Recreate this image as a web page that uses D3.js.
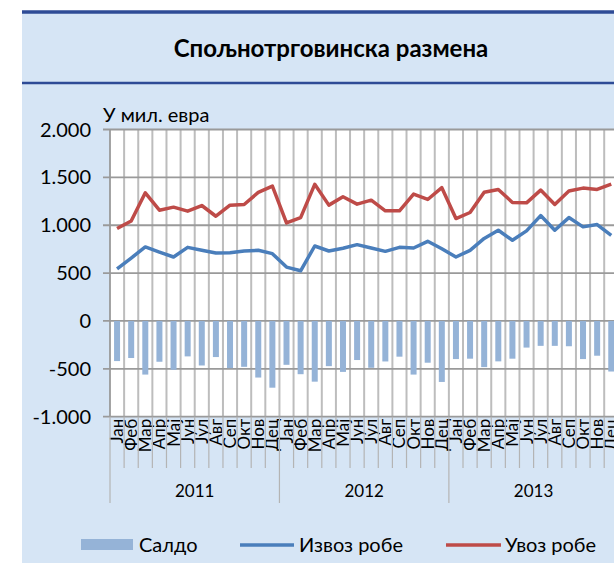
<!DOCTYPE html>
<html>
<head>
<meta charset="utf-8">
<script src="https://cdn.jsdelivr.net/npm/d3@7"></script>
<style>
  body { margin: 0; background: #fff; }
  text { font-family: Lato, "Open Sans", sans-serif; fill: #000; }
</style>
</head>
<body>
<svg id="chart" width="614" height="563"></svg>
<script>
// месеци и године
var months = ["Јан","Феб","Мар","Апр","Мај","Јун","Јул","Авг","Сеп","Окт","Нов","Дец"];
var years = ["2011","2012","2013"];

// извоз робе, мил. евра (очитано са графикона)
var izvoz = [545, 657, 773, 720, 668, 769, 738, 710, 713, 731, 738, 703,
             563, 524, 783, 731, 759, 797, 762, 727, 769, 762, 832, 755,
             668, 738, 862, 948, 843, 941, 1101, 948, 1080, 983, 1007, 895];

// увоз робе
var uvoz = [965, 1045, 1339, 1157, 1189, 1147, 1206, 1094, 1210, 1217, 1343, 1409,
            1024, 1080, 1427, 1210, 1297, 1220, 1262, 1150, 1150, 1325, 1269, 1392,
            1070, 1133, 1345, 1374, 1238, 1234, 1367, 1217, 1357, 1388, 1374, 1430];

// салдо
var saldo = [-419, -387, -560, -426, -510, -370, -465, -377, -493, -479, -591, -697,
             -458, -556, -634, -472, -532, -408, -489, -423, -373, -560, -436, -637,
             -398, -394, -482, -422, -394, -278, -260, -260, -264, -398, -363, -528];

var yTicks = [-1000, -500, 0, 500, 1000, 1500, 2000];

var svg = d3.select("#chart");

// панел
svg.append("rect").attr("x", 22).attr("y", 12).attr("width", 700).attr("height", 600)
   .attr("fill", "#d6e5f5");
svg.append("line").attr("x1", 22).attr("x2", 614).attr("y1", 12).attr("y2", 12)
   .attr("stroke", "#2e4b96").attr("stroke-width", 3.5);
svg.append("line").attr("x1", 22).attr("x2", 614).attr("y1", 83).attr("y2", 83)
   .attr("stroke", "#2e4b96").attr("stroke-width", 2.5);

svg.append("text").attr("x", 331).attr("y", 57).attr("text-anchor", "middle")
   .attr("font-size", 24).attr("font-weight", "bold")
   .text("Спољнотрговинска размена");

var plotLeft = 110, plotTop = 129.5, plotBottom = 416.7, step = 14.12;
var n = months.length * years.length;

var x = d3.scaleBand().domain(d3.range(n)).range([plotLeft, plotLeft + n * step]);
var y = d3.scaleLinear().domain([-1000, 2000]).range([plotBottom, plotTop]);

var fmt = d3.formatLocale({decimal: ",", thousands: ".", grouping: [3], currency: ["", ""], minus: "-"}).format(",d");

var g = svg.append("g");

g.append("rect").attr("x", plotLeft).attr("y", plotTop)
 .attr("width", n * step).attr("height", plotBottom - plotTop).attr("fill", "#fff");

// вертикалне линије мреже
g.selectAll(".vgrid").data(d3.range(1, n + 1)).enter().append("line")
 .attr("x1", d => x(0) + d * x.step()).attr("x2", d => x(0) + d * x.step())
 .attr("y1", plotTop).attr("y2", plotBottom)
 .attr("stroke", "#bdbdbd").attr("stroke-width", 2);

// хоризонталне линије мреже
g.selectAll(".hgrid").data(yTicks).enter().append("line")
 .attr("x1", plotLeft - 7).attr("x2", plotLeft + n * step)
 .attr("y1", d => y(d)).attr("y2", d => y(d))
 .attr("stroke", "#9a9a9a").attr("stroke-width", 1.8);

g.append("line").attr("x1", plotLeft).attr("x2", plotLeft).attr("y1", plotTop).attr("y2", plotBottom)
 .attr("stroke", "#9a9a9a").attr("stroke-width", 1.8);

g.selectAll(".ytick").data(yTicks).enter().append("text")
 .attr("x", plotLeft - 19).attr("y", d => y(d) + 7)
 .attr("text-anchor", "end").attr("font-size", 20)
 .text(d => fmt(d));

g.append("text").attr("x", 103).attr("y", 122).attr("font-size", 20).text("У мил. евра");

// салдо
var bw = 6;
g.selectAll(".bar").data(saldo).enter().append("rect")
 .attr("x", (d, i) => x(i) + x.bandwidth() / 2 - bw / 2)
 .attr("y", y(0))
 .attr("width", bw)
 .attr("height", d => y(d) - y(0))
 .attr("fill", "#95b3d7");

var line = d3.line().x((d, i) => x(i) + x.bandwidth() / 2).y(d => y(d));

g.append("path").datum(izvoz).attr("d", line).attr("fill", "none")
 .attr("stroke", "#4a7ebb").attr("stroke-width", 3.5).attr("stroke-linejoin", "round");
g.append("path").datum(uvoz).attr("d", line).attr("fill", "none")
 .attr("stroke", "#be4b48").attr("stroke-width", 3.5).attr("stroke-linejoin", "round");

// ознаке на x оси
var cats = d3.range(n);
g.selectAll(".mlab").data(cats).enter().append("text")
 .attr("transform", d => `translate(${x(d) + x.bandwidth() / 2 + 6},${plotBottom + 2}) rotate(-90)`)
 .attr("text-anchor", "end").attr("font-size", 17)
 .text(d => months[d % 12]);

g.selectAll(".mtick").data(d3.range(0, n + 1)).enter().append("line")
 .attr("x1", d => x(0) + d * x.step()).attr("x2", d => x(0) + d * x.step())
 .attr("y1", plotBottom).attr("y2", d => d % 12 === 0 ? 503 : 468)
 .attr("stroke", "#b4b4b4").attr("stroke-width", 1.2);

g.selectAll(".ylab").data(years).enter().append("text")
 .attr("x", (d, i) => x(i * 12) + 6 * x.step())
 .attr("y", 497).attr("text-anchor", "middle").attr("font-size", 17)
 .text(d => d);

// легенда
var leg = svg.append("g");
leg.append("rect").attr("x", 81).attr("y", 539).attr("width", 52).attr("height", 11).attr("fill", "#95b3d7");
leg.append("text").attr("x", 139).attr("y", 552).attr("font-size", 20).text("Салдо");
leg.append("line").attr("x1", 240).attr("x2", 294).attr("y1", 545).attr("y2", 545)
   .attr("stroke", "#4a7ebb").attr("stroke-width", 3.5);
leg.append("text").attr("x", 299).attr("y", 552).attr("font-size", 20).text("Извоз робе");
leg.append("line").attr("x1", 446).attr("x2", 501).attr("y1", 545).attr("y2", 545)
   .attr("stroke", "#be4b48").attr("stroke-width", 3.5);
leg.append("text").attr("x", 505).attr("y", 552).attr("font-size", 20).text("Увоз робе");
</script>
</body>
</html>
